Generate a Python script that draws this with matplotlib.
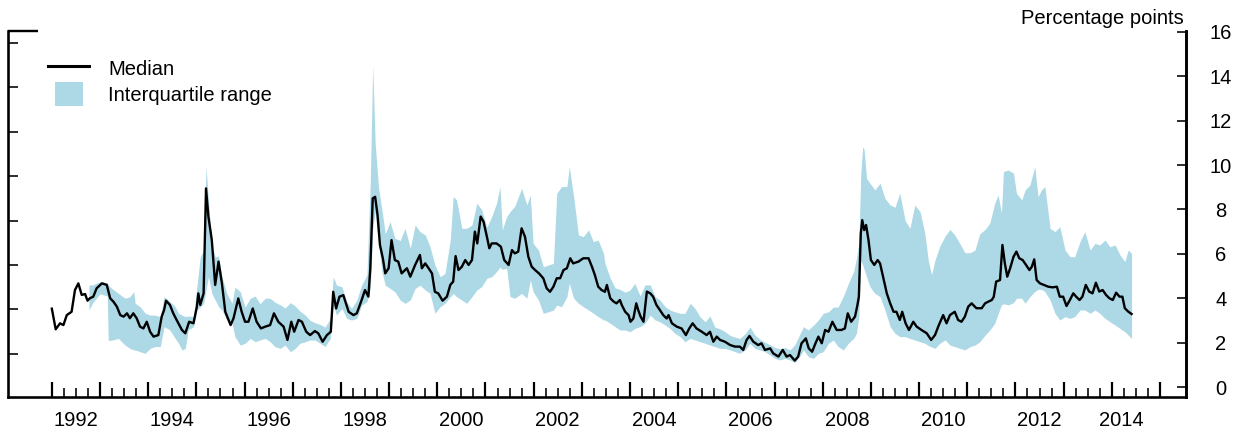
import matplotlib
matplotlib.use("Agg")
import matplotlib.pyplot as plt
from matplotlib.legend_handler import HandlerPatch
from matplotlib.patches import Rectangle, Patch
from matplotlib.lines import Line2D

plt.rcParams['font.family'] = ['Liberation Sans', 'DejaVu Sans']

# ---------------- data (percentage points) ----------------
median_years = [
    1992.00, 1992.08, 1992.17, 1992.24, 1992.31, 1992.41, 1992.48, 1992.55, 1992.62, 1992.69,
    1992.74, 1992.79, 1992.86, 1992.93, 1993.04, 1993.14, 1993.21, 1993.28, 1993.35, 1993.42,
    1993.49, 1993.56, 1993.62, 1993.69, 1993.76, 1993.83, 1993.90, 1993.97, 1994.04, 1994.11,
    1994.21, 1994.28, 1994.33, 1994.37, 1994.45, 1994.52, 1994.59, 1994.70, 1994.77, 1994.85,
    1994.94, 1995.01, 1995.04, 1995.08, 1995.15, 1995.20, 1995.25, 1995.32, 1995.39, 1995.46,
    1995.53, 1995.60, 1995.71,
    1995.77, 1995.87, 1995.94, 1996.01, 1996.08, 1996.17, 1996.25, 1996.34, 1996.43, 1996.53,
    1996.61, 1996.70, 1996.81, 1996.89, 1996.97, 1997.03, 1997.12, 1997.19, 1997.28, 1997.36,
    1997.46, 1997.53, 1997.62, 1997.71, 1997.79, 1997.84, 1997.90, 1997.97, 1998.05, 1998.16,
    1998.26, 1998.33, 1998.43, 1998.50, 1998.57, 1998.61, 1998.66, 1998.71, 1998.76, 1998.81,
    1998.87, 1998.92, 1998.99, 1999.05, 1999.12, 1999.19, 1999.26, 1999.37, 1999.44, 1999.54,
    1999.64,
    1999.68, 1999.75, 1999.82, 1999.89, 1999.95, 2000.02, 2000.11, 2000.20, 2000.27, 2000.33,
    2000.38, 2000.44, 2000.51, 2000.58, 2000.65, 2000.72, 2000.78, 2000.83, 2000.90, 2000.96,
    2001.03, 2001.08, 2001.13, 2001.23, 2001.32, 2001.39, 2001.48, 2001.55, 2001.61, 2001.68,
    2001.75, 2001.82, 2001.89, 2001.96, 2002.03, 2002.11, 2002.20, 2002.27, 2002.34, 2002.41,
    2002.48, 2002.55, 2002.62, 2002.69, 2002.76, 2002.82, 2002.93, 2003.03, 2003.14, 2003.21,
    2003.27, 2003.34, 2003.41, 2003.48,
    2003.52, 2003.59, 2003.66, 2003.72, 2003.79, 2003.83, 2003.90, 2003.97, 2004.01, 2004.07,
    2004.13, 2004.17, 2004.22, 2004.28, 2004.35, 2004.42, 2004.48, 2004.55, 2004.62, 2004.69,
    2004.76, 2004.80, 2004.87, 2004.97, 2005.07, 2005.16, 2005.23, 2005.30, 2005.38, 2005.49,
    2005.59, 2005.66, 2005.73, 2005.80, 2005.87, 2005.97, 2006.08, 2006.18, 2006.28, 2006.35,
    2006.42, 2006.48, 2006.56, 2006.66, 2006.73, 2006.80, 2006.91, 2006.97, 2007.08, 2007.17,
    2007.25, 2007.32,
    2007.42, 2007.49, 2007.56, 2007.65, 2007.71, 2007.78, 2007.85, 2007.91, 2007.98, 2008.05,
    2008.12, 2008.20, 2008.29, 2008.39, 2008.46, 2008.52, 2008.59, 2008.67, 2008.72, 2008.75,
    2008.79, 2008.82, 2008.86, 2008.90, 2008.95, 2009.00, 2009.07, 2009.14, 2009.19, 2009.26,
    2009.33, 2009.40, 2009.47, 2009.53, 2009.60, 2009.65, 2009.72, 2009.79, 2009.88, 2009.95,
    2010.05, 2010.16, 2010.25, 2010.33, 2010.41, 2010.50, 2010.57, 2010.64, 2010.74, 2010.81,
    2010.88, 2010.95, 2011.02, 2011.09, 2011.16,
    2011.19, 2011.30, 2011.37, 2011.44, 2011.51, 2011.55, 2011.60, 2011.68, 2011.73, 2011.78,
    2011.83, 2011.89, 2011.96, 2012.02, 2012.08, 2012.15, 2012.22, 2012.29, 2012.34, 2012.39,
    2012.44, 2012.51, 2012.59, 2012.68, 2012.77, 2012.86, 2012.92, 2012.99, 2013.06, 2013.13,
    2013.20, 2013.26, 2013.33, 2013.39, 2013.46, 2013.53, 2013.60, 2013.67, 2013.74, 2013.81,
    2013.88, 2013.95, 2014.02, 2014.09, 2014.16, 2014.22, 2014.27, 2014.34, 2014.41,
]
median_values = [
    3.53, 2.60, 2.87, 2.79, 3.24, 3.39, 4.37, 4.67, 4.15, 4.19,
    3.89, 4.00, 4.07, 4.45, 4.67, 4.60, 4.00, 3.84, 3.62, 3.24,
    3.17, 3.32, 3.10, 3.32, 3.10, 2.72, 2.64, 2.94, 2.49, 2.27,
    2.34, 3.17, 3.47, 3.89, 3.70, 3.32, 3.02, 2.57, 2.42, 2.94,
    2.87, 3.62, 4.22, 3.70, 4.22, 8.95, 7.67, 6.62, 4.60, 5.65,
    4.67, 3.39, 2.79,
    3.09, 3.99, 3.39, 2.94, 2.94, 3.54, 2.94, 2.64, 2.72, 2.79,
    3.32, 2.94, 2.72, 2.12, 2.94, 2.49, 3.02, 2.94, 2.49, 2.34,
    2.52, 2.42, 2.04, 2.34, 2.49, 4.29, 3.54, 4.07, 4.14, 3.39,
    3.24, 3.32, 3.92, 4.37, 4.07, 5.35, 8.50, 8.57, 7.75, 6.40,
    5.80, 5.12, 5.35, 6.62, 5.72, 5.65, 5.12, 5.35, 4.97, 5.50,
    5.95,
    5.35, 5.57, 5.35, 5.12, 4.29, 4.22, 3.89, 4.07, 4.60, 4.75,
    5.90, 5.27, 5.42, 5.72, 5.50, 5.72, 7.00, 6.47, 7.68, 7.45,
    6.77, 6.25, 6.47, 6.47, 6.32, 5.72, 5.50, 6.17, 6.02, 6.10,
    7.15, 6.77, 5.87, 5.42, 5.27, 5.12, 4.90, 4.45, 4.29, 4.52,
    4.90, 4.90, 5.27, 5.35, 5.80, 5.57, 5.65, 5.80, 5.80, 5.42,
    5.05, 4.52, 4.37, 4.29,
    4.60, 4.00, 3.85, 3.77, 3.92, 3.69, 3.39, 3.24, 2.94, 3.09,
    3.77, 3.47, 3.17, 2.94, 4.30, 4.22, 4.07, 3.69, 3.47, 3.24,
    3.09, 3.24, 2.87, 2.72, 2.64, 2.34, 2.64, 2.87, 2.64, 2.49,
    2.34, 2.49, 2.04, 2.27, 2.12, 2.04, 1.89, 1.82, 1.82, 1.67,
    2.12, 2.30, 2.04, 1.89, 1.97, 1.67, 1.74, 1.52, 1.37, 1.67,
    1.37, 1.44,
    1.19, 1.37, 1.97, 2.19, 1.74, 1.59, 1.97, 2.27, 1.97, 2.57,
    2.49, 2.94, 2.57, 2.57, 2.64, 3.32, 2.94, 3.17, 3.69, 4.07,
    6.92, 7.52, 7.07, 7.30, 6.62, 5.72, 5.50, 5.72, 5.57, 4.90,
    4.22, 3.77, 3.39, 3.39, 3.02, 3.39, 2.87, 2.57, 2.94, 2.72,
    2.57, 2.42, 2.12, 2.34, 2.79, 3.24, 2.87, 3.24, 3.39, 3.02,
    2.94, 3.17, 3.62, 3.77, 3.62,
    3.55, 3.55, 3.77, 3.85, 3.92, 4.07, 4.75, 4.82, 6.40, 5.57,
    4.97, 5.35, 5.87, 6.10, 5.80, 5.72, 5.50, 5.27, 5.42, 5.75,
    4.82, 4.67, 4.60, 4.52, 4.49, 4.52, 4.07, 4.07, 3.65, 3.92,
    4.22, 4.07, 3.92, 4.07, 4.60, 4.30, 4.22, 4.70, 4.30, 4.37,
    4.15, 4.00, 3.92, 4.25, 4.07, 4.07, 3.55, 3.40, 3.29,
]

iqr_years = [
    1992.77, 1992.85, 1993.00, 1993.15, 1993.17, 1993.24, 1993.38, 1993.52, 1993.62, 1993.70,
    1993.73, 1993.83, 1993.94, 1994.04, 1994.14, 1994.25, 1994.33, 1994.45, 1994.56, 1994.63,
    1994.70, 1994.77, 1994.83, 1994.94, 1995.01, 1995.08, 1995.15, 1995.20, 1995.25, 1995.32,
    1995.39, 1995.46, 1995.53, 1995.63, 1995.74,
    1995.80, 1995.91, 1996.01, 1996.12, 1996.22, 1996.32, 1996.43, 1996.53, 1996.63, 1996.74,
    1996.84, 1996.95, 1997.05, 1997.15, 1997.26, 1997.36, 1997.46, 1997.57, 1997.67, 1997.78,
    1997.84, 1997.91, 1998.02, 1998.12, 1998.22, 1998.33, 1998.43, 1998.54, 1998.61, 1998.66,
    1998.71, 1998.78, 1998.85, 1998.92, 1999.02, 1999.12, 1999.23, 1999.33, 1999.44, 1999.54,
    1999.64,
    1999.75, 1999.85, 1999.95, 2000.06, 2000.16, 2000.27, 2000.33, 2000.40, 2000.51, 2000.61,
    2000.72, 2000.82, 2000.92, 2001.03, 2001.13, 2001.23, 2001.30, 2001.35, 2001.44, 2001.51,
    2001.61, 2001.75, 2001.86, 2001.93, 2001.99, 2002.10, 2002.20, 2002.31, 2002.41, 2002.48,
    2002.58, 2002.69, 2002.74, 2002.83, 2002.93, 2003.03, 2003.14, 2003.24, 2003.34, 2003.45,
    2003.48, 2003.59, 2003.69, 2003.79, 2003.90, 2004.00, 2004.10, 2004.21, 2004.31, 2004.42,
    2004.52, 2004.62, 2004.73, 2004.83, 2004.93, 2005.04, 2005.14, 2005.25, 2005.35, 2005.45,
    2005.56, 2005.66, 2005.76, 2005.87, 2005.97, 2006.08, 2006.18, 2006.28, 2006.39, 2006.49,
    2006.59, 2006.70, 2006.80, 2006.91, 2007.01, 2007.11, 2007.22, 2007.32,
    2007.42, 2007.53, 2007.60, 2007.70, 2007.81, 2007.91, 2008.01, 2008.12, 2008.22, 2008.32,
    2008.43, 2008.53, 2008.64, 2008.70, 2008.75, 2008.79, 2008.83, 2008.86, 2008.91, 2008.98,
    2009.08, 2009.19, 2009.29, 2009.40, 2009.50, 2009.60, 2009.71, 2009.81, 2009.91, 2010.02,
    2010.12, 2010.19, 2010.26, 2010.33, 2010.43, 2010.54, 2010.64, 2010.74, 2010.85, 2010.95,
    2011.06, 2011.16,
    2011.26, 2011.37, 2011.47, 2011.57, 2011.64, 2011.71, 2011.75, 2011.85, 2011.96, 2012.02,
    2012.13, 2012.20, 2012.30, 2012.40, 2012.47, 2012.54, 2012.61, 2012.72, 2012.82, 2012.92,
    2013.03, 2013.13, 2013.23, 2013.34, 2013.44, 2013.55, 2013.65, 2013.75, 2013.86, 2013.96,
    2014.07, 2014.17, 2014.27, 2014.34, 2014.41,
]
iqr_low = [
    3.47, 3.80, 4.20, 4.10, 2.10, 2.11, 2.19, 1.89, 1.74, 1.67,
    1.67, 1.59, 1.52, 1.74, 1.82, 1.82, 2.72, 2.57, 2.19, 1.97,
    1.67, 1.74, 2.57, 2.72, 3.47, 3.60, 3.77, 4.37, 4.97, 4.22,
    3.92, 3.62, 3.47, 3.02, 2.87,
    2.27, 1.89, 1.97, 2.19, 2.04, 2.12, 2.19, 2.04, 1.82, 1.74,
    1.89, 1.59, 1.74, 1.97, 2.04, 2.12, 2.12, 1.97, 1.82, 2.19,
    3.69, 3.24, 3.54, 3.09, 3.02, 3.09, 3.69, 3.84, 4.44, 7.15,
    7.90, 6.55, 5.20, 4.59, 4.44, 4.29, 3.92, 3.77, 3.92, 4.44,
    4.59,
    4.37, 4.22, 3.32, 3.62, 3.77, 4.07, 4.22, 4.07, 3.92, 3.77,
    4.07, 4.37, 4.52, 4.90, 4.97, 5.20, 5.40, 5.30, 5.35, 4.07,
    4.00, 4.22, 4.00, 4.82, 4.29, 3.92, 3.32, 3.39, 3.47, 3.69,
    3.62, 4.07, 4.67, 4.00, 3.77, 3.62, 3.47, 3.32, 3.17, 3.02,
    3.02, 2.87, 2.72, 2.57, 2.57, 2.49, 2.64, 2.72, 2.87, 3.24,
    3.02, 2.94, 2.79, 2.64, 2.42, 2.27, 2.04, 2.19, 2.12, 2.04,
    1.97, 1.89, 1.82, 1.74, 1.74, 1.67, 1.59, 1.52, 1.67, 1.97,
    1.74, 1.67, 1.59, 1.44, 1.29, 1.22, 1.29, 1.22,
    1.10, 1.40, 1.67, 1.37, 1.29, 1.52, 1.59, 1.97, 2.12, 1.82,
    1.67, 1.97, 2.19, 2.42, 3.17, 5.72, 5.50, 5.30, 4.97, 4.52,
    4.22, 4.07, 3.47, 2.72, 2.42, 2.27, 2.27, 2.19, 2.12, 2.04,
    1.97, 1.87, 1.80, 1.74, 1.97, 2.12, 1.89, 1.82, 1.74, 1.67,
    1.82, 1.89,
    2.04, 2.34, 2.57, 2.87, 3.30, 3.70, 3.75, 3.70, 3.80, 4.00,
    4.00, 3.77, 4.07, 4.30, 4.40, 4.40, 4.30, 3.92, 3.32, 3.02,
    3.17, 3.09, 3.17, 3.47, 3.47, 3.32, 3.47, 3.32, 3.09, 2.94,
    2.79, 2.64, 2.49, 2.34, 2.19,
]
iqr_high = [
    4.60, 4.60, 4.75, 4.70, 4.60, 4.45, 4.22, 4.00, 4.07, 4.30,
    3.77, 3.62, 3.32, 3.24, 3.24, 3.17, 4.07, 3.85, 3.62, 3.32,
    3.24, 3.17, 3.20, 3.17, 4.52, 5.86, 6.16, 9.93, 8.40, 6.46,
    5.86, 5.90, 4.97, 4.22, 3.77,
    4.50, 4.30, 3.60, 4.00, 4.10, 3.75, 4.00, 4.00, 3.82, 3.70,
    3.56, 3.80, 3.65, 3.42, 3.24, 3.00, 2.90, 2.82, 2.70, 3.09,
    4.97, 4.59, 4.52, 3.84, 3.54, 3.92, 4.59, 5.05, 9.25, 14.51,
    11.00, 9.00, 8.00, 6.90, 7.45, 6.70, 6.60, 7.15, 6.25, 7.30,
    7.00,
    6.85, 6.32, 5.50, 4.97, 5.12, 6.62, 8.58, 8.43, 7.15, 7.15,
    7.30, 8.28, 8.00, 7.20, 7.68, 8.28, 9.03, 7.08, 7.68, 7.90,
    8.15, 8.95, 8.20, 8.65, 6.47, 6.17, 5.42, 5.50, 5.57, 8.73,
    9.03, 9.03, 9.93, 8.58, 6.85, 6.77, 7.08, 6.55, 6.62, 6.02,
    5.57, 4.90, 4.47, 4.40, 4.27, 4.37, 4.67, 4.10, 4.60, 4.60,
    4.07, 3.92, 3.62, 3.47, 3.39, 3.32, 3.32, 3.77, 3.54, 3.17,
    2.94, 3.20, 2.70, 2.62, 2.50, 2.32, 2.25, 2.19, 2.40, 2.70,
    2.35, 2.14, 2.02, 1.90, 1.78, 1.72, 1.78, 1.67,
    1.90, 2.40, 2.72, 2.57, 2.79, 3.02, 3.32, 3.39, 3.60, 3.60,
    4.10, 4.65, 5.20, 5.80, 6.50, 9.63, 10.83, 10.68, 9.40, 9.18,
    8.88, 9.18, 8.50, 8.20, 8.10, 8.73, 7.50, 7.15, 8.20, 7.90,
    6.92, 5.72, 5.05, 5.72, 6.35, 6.80, 7.10, 6.85, 6.45, 6.05,
    6.05, 6.17,
    6.90, 7.10, 7.40, 8.28, 8.65, 7.83, 9.70, 9.78, 9.63, 8.73,
    8.43, 8.88, 9.10, 9.93, 8.58, 8.88, 9.03, 7.15, 7.00, 7.22,
    6.17, 5.87, 5.87, 6.55, 7.00, 6.17, 6.47, 6.40, 6.62, 6.32,
    6.40, 5.95, 5.65, 6.17, 6.02,
]

year_ticks = list(range(1992, 2016))
year_labels = ['1992', '1994', '1996', '1998', '2000', '2002', '2004',
               '2006', '2008', '2010', '2012', '2014']
year_label_pos = [1992.5, 1994.5, 1996.5, 1998.5, 2000.5, 2002.5, 2004.5,
                  2006.5, 2008.5, 2010.5, 2012.5, 2014.2]
right_ticks = [0, 2, 4, 6, 8, 10, 12, 14, 16]
left_ticks = [1.5, 3.5, 5.5, 7.5, 9.5, 11.5, 13.5, 15.5]

# ---------------- figure ----------------
W, H, DPI = 1242, 434, 100
PX = 72.0 / DPI  # points per pixel
FS = 14.5
fill_color = '#add8e6'

fig = plt.figure(figsize=(W / DPI, H / DPI), dpi=DPI)
ax = fig.add_axes([8 / W, 1 - 397 / H, (1186 - 8) / W, (397 - 31) / H])
ax.set_xlim(1991.09, 2015.54)
ax.set_ylim(-0.45, 16.04)

ax.fill_between(iqr_years, iqr_low, iqr_high, color=fill_color, lw=0,
                label='Interquartile range')
ax.plot(median_years, median_values, color='black', lw=1.7,
        solid_joinstyle='round', label='Median')

# spines
ax.spines['top'].set_visible(False)
for s in ['left', 'right', 'bottom']:
    ax.spines[s].set_linewidth(2.6 * PX)
    ax.spines[s].set_capstyle('projecting')

# x ticks
ax.set_xticks(year_ticks)
ax.set_xticks([y + q for y in year_ticks[:-1] for q in (0.25, 0.5, 0.75)], minor=True)
ax.tick_params(axis='x', which='major', direction='in', length=15 * PX, width=2.2 * PX,
               labelbottom=False, top=False)
ax.tick_params(axis='x', which='minor', direction='in', length=9 * PX, width=1.6 * PX,
               top=False)
for lab, xp in zip(year_labels, year_label_pos):
    ax.text(xp, -23.5 / 366, lab, transform=ax.get_xaxis_transform(),
            ha='center', va='center', fontsize=FS)

# left ticks (no labels)
ax.set_yticks(left_ticks)
ax.set_yticks([16.04], minor=True)
ax.tick_params(axis='y', which='major', direction='in', length=10 * PX, width=1.6 * PX,
               labelleft=False, right=False)
ax.tick_params(axis='y', which='minor', direction='in', length=30 * PX, width=2.4 * PX,
               labelleft=False, right=False)

# right axis with labels
ax2 = ax.twinx()
ax2.set_ylim(ax.get_ylim())
for s in ['top', 'left', 'bottom']:
    ax2.spines[s].set_visible(False)
ax2.spines['right'].set_linewidth(2.6 * PX)
ax2.set_yticks(right_ticks)
ax2.set_yticklabels([str(t) for t in right_ticks])
ax2.set_yticks([16], minor=True)
ax2.tick_params(axis='y', which='major', direction='in', length=9 * PX, width=1.6 * PX,
                pad=35 * PX, labelsize=FS)
ax2.tick_params(axis='y', which='minor', direction='in', length=29 * PX, width=2.4 * PX)
for lab in ax2.get_yticklabels():
    lab.set_horizontalalignment('center')

fig.text(1184 / W, 1 - 24 / H, 'Percentage points', ha='right', va='baseline',
         fontsize=FS)

# legend
fs_px = FS / PX


def narrow_patch(legend, orig_handle, xdescent, ydescent, width, height, fontsize):
    w = 28.0 / 41.0 * width
    h = 28.0 / 23.0 * height
    return Rectangle((-xdescent + (width - w) / 2, -ydescent + (height - h) / 2), w, h)


leg_line = Line2D([], [], color='black', lw=2.2)
leg_patch = Patch(facecolor=fill_color, edgecolor='none')
ax.legend([leg_line, leg_patch], ['Median', 'Interquartile range'],
          handler_map={Patch: HandlerPatch(patch_func=narrow_patch)},
          loc='upper left', bbox_to_anchor=(48.3 / W, 1 - (68 - 10) / H),
          bbox_transform=fig.transFigure, frameon=False, fontsize=FS,
          borderaxespad=0, borderpad=0, handlelength=41 / fs_px,
          handleheight=23 / fs_px, handletextpad=19 / fs_px,
          labelspacing=0.28)

fig.savefig('out.png', dpi=DPI)
